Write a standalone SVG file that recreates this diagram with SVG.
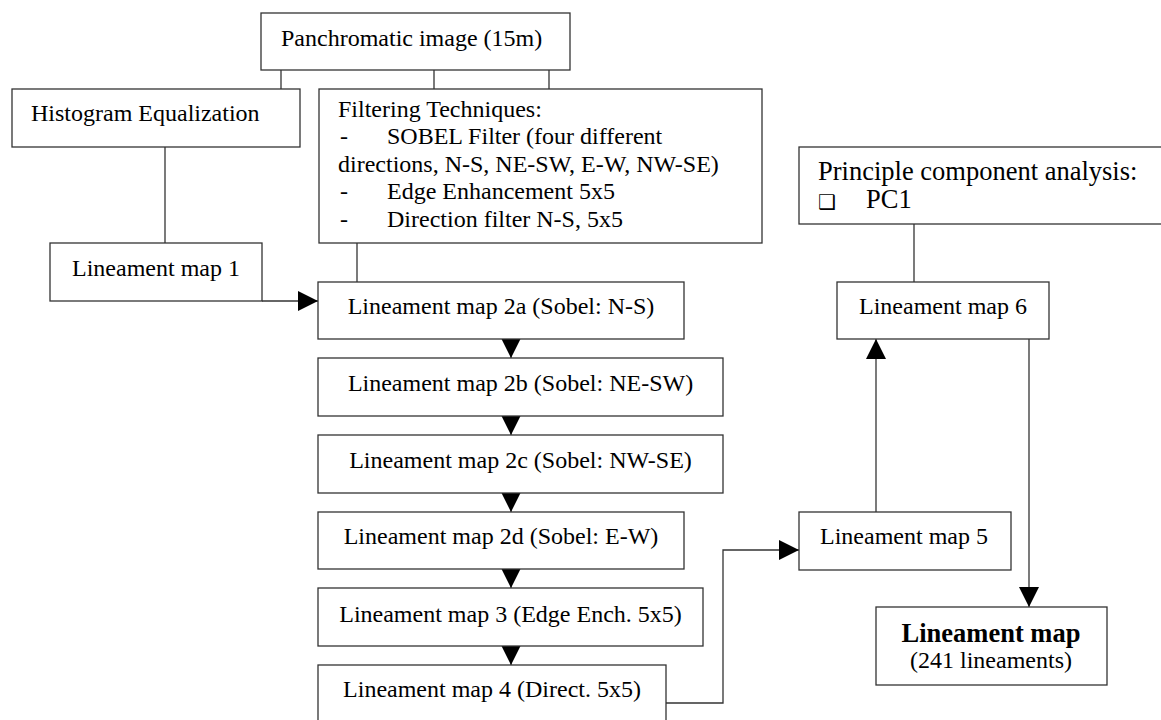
<svg xmlns="http://www.w3.org/2000/svg" width="1161" height="720" viewBox="0 0 1161 720">
<style>
.box{fill:#fff;stroke:#333;stroke-width:1.3}
.t{font-family:"Liberation Serif","Times New Roman",serif;font-size:24px;fill:#000}
.c{text-anchor:middle}
.big{font-size:26.5px}
.b{font-weight:bold}
.ln{fill:none;stroke:#333;stroke-width:1.3}
</style>
<defs>
<marker id="ah" markerUnits="userSpaceOnUse" markerWidth="20" markerHeight="20" refX="20" refY="10" orient="auto">
<path d="M0,0 L20,10 L0,20 z" fill="#000"/>
</marker>
</defs>
<rect width="1161" height="720" fill="#fff"/>
<g id="connectors">
<path class="ln" d="M281,70 V89"/>
<path class="ln" d="M434,70 V89"/>
<path class="ln" d="M549,70 V89"/>
<path class="ln" d="M165,147 V243"/>
<path class="ln" d="M357,243 V282"/>
<path class="ln" d="M262,301 H318" marker-end="url(#ah)"/>
<path class="ln" d="M511,339 V358" marker-end="url(#ah)"/>
<path class="ln" d="M511,416 V435" marker-end="url(#ah)"/>
<path class="ln" d="M511,493 V512" marker-end="url(#ah)"/>
<path class="ln" d="M511,569 V588" marker-end="url(#ah)"/>
<path class="ln" d="M511,646 V665" marker-end="url(#ah)"/>
<path class="ln" d="M666,703 H723 V550 H799" marker-end="url(#ah)"/>
<path class="ln" d="M876,512 V339" marker-end="url(#ah)"/>
<path class="ln" d="M914,224 V282"/>
<path class="ln" d="M1029,339 V607" marker-end="url(#ah)"/>
</g>
<g id="pan">
<rect class="box" x="261" y="13" width="309" height="57"/>
<text class="t" x="281" y="46">Panchromatic image (15m)</text>
</g>
<g id="hist">
<rect class="box" x="12" y="89" width="288" height="58"/>
<text class="t" x="31" y="121">Histogram Equalization</text>
</g>
<g id="filter">
<rect class="box" x="319" y="89" width="443" height="154"/>
<text class="t" x="338" y="117">Filtering Techniques:</text>
<text class="t" x="340" y="144">-</text>
<text class="t" x="387" y="144">SOBEL Filter (four different</text>
<text class="t" x="338" y="171.5">directions, N-S, NE-SW, E-W, NW-SE)</text>
<text class="t" x="340" y="199">-</text>
<text class="t" x="387" y="199">Edge Enhancement 5x5</text>
<text class="t" x="340" y="226.5">-</text>
<text class="t" x="387" y="226.5">Direction filter N-S, 5x5</text>
</g>
<g id="lm1">
<rect class="box" x="50" y="243" width="212" height="58"/>
<text class="t c" x="156" y="276">Lineament map 1</text>
</g>
<g id="lm2a">
<rect class="box" x="318" y="282" width="366" height="57"/>
<text class="t c" x="501" y="314">Lineament map 2a (Sobel: N-S)</text>
</g>
<g id="lm2b">
<rect class="box" x="318" y="358" width="405" height="58"/>
<text class="t c" x="520.5" y="391">Lineament map 2b (Sobel: NE-SW)</text>
</g>
<g id="lm2c">
<rect class="box" x="318" y="435" width="405" height="58"/>
<text class="t c" x="520.5" y="468">Lineament map 2c (Sobel: NW-SE)</text>
</g>
<g id="lm2d">
<rect class="box" x="318" y="512" width="366" height="57"/>
<text class="t c" x="501" y="544">Lineament map 2d (Sobel: E-W)</text>
</g>
<g id="lm3">
<rect class="box" x="318" y="588" width="385" height="58"/>
<text class="t c" x="510.5" y="622">Lineament map 3 (Edge Ench. 5x5)</text>
</g>
<g id="lm4">
<rect class="box" x="318" y="665" width="348" height="70"/>
<text class="t c" x="492" y="697">Lineament map 4 (Direct. 5x5)</text>
</g>
<g id="lm5">
<rect class="box" x="799" y="512" width="212" height="58"/>
<text class="t c" x="904" y="544">Lineament map 5</text>
</g>
<g id="pca">
<rect class="box" x="799" y="147" width="380" height="77"/>
<text class="t big" x="818" y="180">Principle component analysis:</text>
<text x="818" y="209" style="font-family:'DejaVu Sans',sans-serif;font-size:20px">❑</text>
<text class="t big" x="866" y="208">PC1</text>
</g>
<g id="lm6">
<rect class="box" x="837" y="282" width="212" height="57"/>
<text class="t c" x="943" y="314">Lineament map 6</text>
</g>
<g id="final">
<rect class="box" x="876" y="607" width="231" height="78"/>
<text class="t c big b" x="991" y="642">Lineament map</text>
<text class="t c" x="991" y="668">(241 lineaments)</text>
</g>
</svg>
